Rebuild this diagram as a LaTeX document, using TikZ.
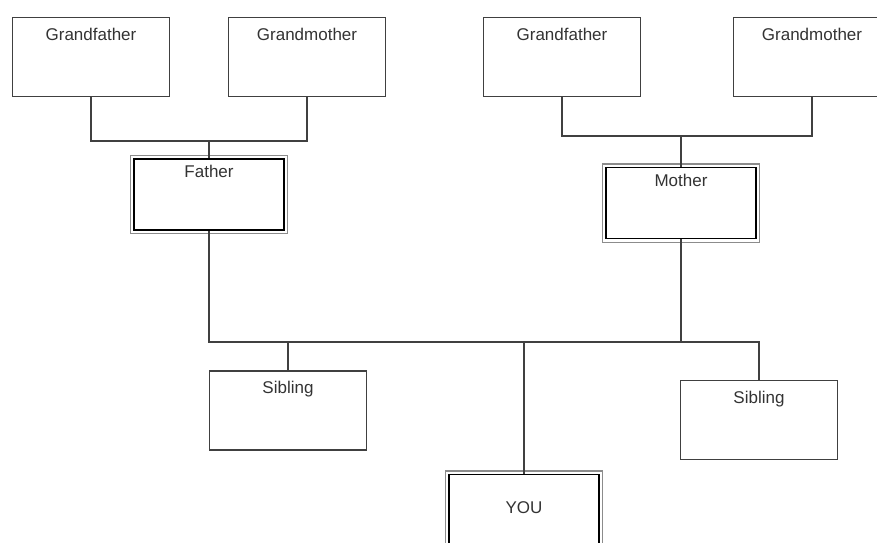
\documentclass[tikz,border=0pt]{standalone}
\usepackage{fontspec}
\setmainfont{Liberation Sans}
\usepackage{tikz}
\definecolor{edge}{gray}{0.25}
\definecolor{ring}{gray}{0.55}
\tikzset{
    member/.style={draw=edge, line width=1.4pt, minimum width=157pt, minimum height=79pt, inner sep=0pt},
    member_par/.style={draw=black, line width=1.8pt, minimum width=150pt, minimum height=71pt, inner sep=0pt,
        preaction={draw=ring, line width=8.4pt}, preaction={draw=white, fill=white, line width=6pt}},
    tag/.style={anchor=north, yshift=-11pt, font=\fontsize{17}{20}\selectfont, text=black!80, inner sep=0pt},
    tag_par/.style={tag, yshift=4pt},
    link/.style={draw=edge, line width=1.5pt}
}

\begin{document}
\begin{tikzpicture}[x=1pt, y=-1pt]
    \clip (0,0) rectangle (877,542);
    % grandparents
    \node[member, label={[tag]north:Grandfather}](gfL) at (91,57){};
    \node[member, label={[tag]north:Grandmother}](gmL) at (307,57){};
    \node[member, label={[tag]north:Grandfather}](gfR) at (562,57){};
    \node[member, label={[tag]north:Grandmother}](gmR) at (812,57){};
    % parents
    \node[member_par, label={[tag_par]north:Father}](father) at (209,194.5){};
    \node[member_par, label={[tag_par]north:Mother}](mother) at (681,203){};
    % children
    \node[member, label={[tag]north:Sibling}](sibL) at (288,410.5){};
    \node[member, label={[tag]north:Sibling}](sibR) at (759,420){};
    \node[member_par, label={[tag, yshift=-17pt]north:YOU}](you) at (524,510){};
    % connectors
    \coordinate (jL) at (209,141);
    \coordinate (jR) at (681,136);
    \coordinate (jF) at (209,342);
    \coordinate (jM) at (681,342);
    \draw[link] (gfL.south) |- (jL) -| (gmL.south);
    \draw[link] (jL) -- (father.north);
    \draw[link] (gfR.south) |- (jR) -| (gmR.south);
    \draw[link] (jR) -- (mother.north);
    \draw[link] (father.south) -- (jF) -- (sibR.north |- jF) -- (sibR.north);
    \draw[link] (mother.south) -- (jM);
    \draw[link] (sibL.north) -- (sibL.north |- jF);
    \draw[link] (you.north) -- (you.north |- jF);
\end{tikzpicture}
\end{document}
